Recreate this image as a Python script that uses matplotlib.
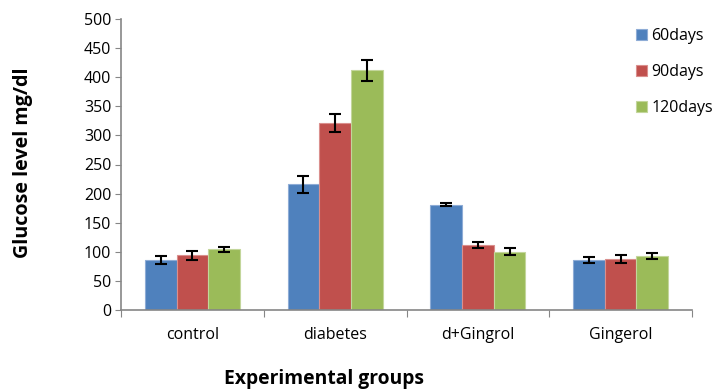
import matplotlib
matplotlib.use("Agg")
import matplotlib.pyplot as plt
import numpy as np

categories = ["control", "diabetes", "d+Gingrol", "Gingerol"]
series_names = ["60days", "90days", "120days"]
v60 = [86, 216, 181, 86]
v90 = [94, 321, 111, 88]
v120 = [104, 412, 100, 93]
e60 = [7, 15, 3, 5]
e90 = [8, 16, 5, 7]
e120 = [5, 18, 6, 5]
colors = ["#4F81BD", "#C0504D", "#9BBB59"]
edge = ["#8EACD6", "#DA8F8D", "#C3D69B"]

plt.rcParams['font.family'] = ['Open Sans', 'DejaVu Sans']

fig = plt.figure(figsize=(7.27, 3.91), dpi=100)
ax = fig.add_axes([121/727, 1-310/391, (692-121)/727, (310-19)/391])

x = np.arange(len(categories))
w = 1/4.5
vals = [v60, v90, v120]
errs = [e60, e90, e120]
for i in range(3):
    ax.bar(x + (i-1)*w, vals[i], w, color=colors[i], edgecolor=edge[i], linewidth=0.8,
           label=series_names[i], zorder=2)
    ax.errorbar(x + (i-1)*w, vals[i], yerr=errs[i], fmt='none', ecolor='black',
                elinewidth=1.5, capsize=4.5, capthick=1.5, zorder=3)

ax.set_xlim(-0.5, 3.5)
ax.set_ylim(0, 500)
ax.set_yticks(range(0, 501, 50))
ax.set_xticks(np.arange(-0.5, 3.6, 1))
ax.set_xticklabels([])
ax.set_xticks(x, minor=True)
ax.set_xticklabels(categories, minor=True)
ax.tick_params(axis='x', which='minor', length=0, pad=12, labelsize=11.5)
ax.tick_params(axis='x', which='major', length=5, color='#868686', direction='out')
ax.tick_params(axis='y', length=4, color='#868686', labelsize=11.5, pad=3)
for s in ['top', 'right']:
    ax.spines[s].set_visible(False)
for s in ['left', 'bottom']:
    ax.spines[s].set_color('#868686')
    ax.spines[s].set_linewidth(1.2)

fig.text(23/727, 1-163/391, "Glucose level mg/dl", rotation=90, fontsize=14.2,
         fontweight='bold', ha='center', va='center')
fig.text(324/727, 1-379/391, "Experimental groups", fontsize=13.9,
         fontweight='bold', ha='center', va='center')

leg = fig.legend(loc='upper left', bbox_to_anchor=(630/727, 1-22/391), frameon=False,
                 fontsize=11.5, handlelength=0.65, handleheight=0.65, handletextpad=0.3,
                 labelspacing=1.25, borderaxespad=0)

fig.savefig("out.png", dpi=100)
